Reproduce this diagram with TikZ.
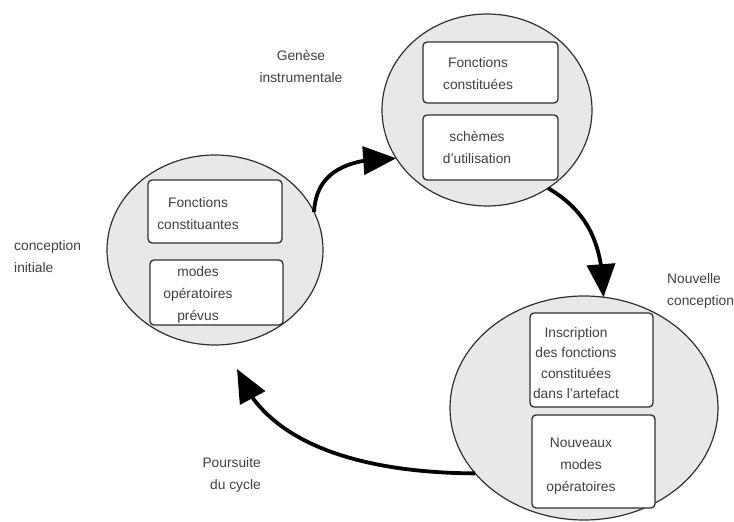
\documentclass[tikz,border=0pt]{standalone}
\usepackage{fontspec}
\setmainfont{Liberation Sans}
\usetikzlibrary{shapes.geometric,arrows.meta,bending}
\definecolor{ellfill}{HTML}{E8E8E8}
\definecolor{edge}{HTML}{303030}
\definecolor{txt}{HTML}{404040}
\begin{document}
\begin{tikzpicture}[x=1pt,y=-1pt,
  ell/.style={ellipse,draw=edge,fill=ellfill,line width=1.2pt,inner sep=0pt,outer sep=0pt},
  box/.style={rectangle,rounded corners=4pt,draw=edge,fill=white,line width=1.3pt,inner sep=0pt,outer sep=0pt},
  lbl/.style={text=txt,align=center,inner sep=0pt,font=\fontsize{13.8}{22}\selectfont},
  arrow/.style={line width=3.8pt,black,-{Triangle[length=33pt,width=28pt,flex]}}]
\useasboundingbox[fill=white] (0,0) rectangle (734,522);
% ellipses
\node[ell,minimum width=216pt,minimum height=190pt] (L) at (215,250) {};
\node[ell,minimum width=210pt,minimum height=192pt] (T) at (487,110) {};
\node[ell,minimum width=268pt,minimum height=224pt] (R) at (584,408) {};
% boxes
\node[box,minimum width=134pt,minimum height=63pt] (L1) at (215,211.5) {};
\node[box,minimum width=133pt,minimum height=65pt] (L2) at (216.5,292.5) {};
\node[box,minimum width=135pt,minimum height=61pt] (T1) at (490.5,72.5) {};
\node[box,minimum width=135pt,minimum height=65pt] (T2) at (490.5,147.5) {};
\node[box,minimum width=123pt,minimum height=94pt] (R1) at (591.5,360) {};
\node[box,minimum width=123pt,minimum height=93pt] (R2) at (593.5,461.5) {};
% box texts
\node[lbl] (tL1) at (198,214) {Fonctions\\constituantes};
\node[lbl] (tL2) at (198,295) {modes\\opératoires\\prévus};
\node[lbl] (tT1) at (478,74) {Fonctions\\constituées};
\node[lbl] (tT2) at (477,147.5) {schèmes\\d'utilisation};
\node[lbl,font=\fontsize{13.8}{20.5}\selectfont] (tR1) at (576,363) {Inscription\\des fonctions\\constituées\\dans l'artefact};
\node[lbl] (tR2) at (581,466) {Nouveaux\\modes\\opératoires};
% free labels
\node[lbl] (gen) at (301,66) {Genèse\\instrumentale};
\node[lbl,align=left,anchor=west] (nc) at (667,291) {Nouvelle\\conception};
\node[lbl,align=left,anchor=west] (ci) at (14,256.5) {conception\\initiale};
\node[lbl,align=right,anchor=east] (pc) at (261,475) {Poursuite\\du cycle};
% arrows
\coordinate (P) at (237,369);
\draw[arrow] (L.21) .. controls (316,180) and (335,158) .. (T.208);
\draw[arrow] (T.-52) .. controls (585,210) and (603,240) .. (R.80);
\draw[arrow] (R.211) .. controls (380,473) and (268,452) .. (P);
\end{tikzpicture}
\end{document}
